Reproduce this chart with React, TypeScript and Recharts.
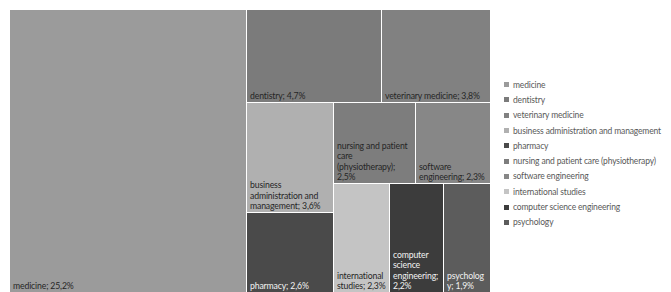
import { Treemap } from 'recharts';

// share of graduates by field of study, in %
const categories = [
  'medicine',
  'dentistry',
  'veterinary medicine',
  'business administration and management',
  'pharmacy',
  'nursing and patient care (physiotherapy)',
  'software engineering',
  'international studies',
  'computer science engineering',
  'psychology',
];
const shares = [25.2, 4.7, 3.8, 3.6, 2.6, 2.5, 2.3, 2.3, 2.2, 1.9];
const tileColors = [
  '#9b9b9b', '#7b7b7b', '#818181', '#b0b0b0', '#4a4a4a',
  '#7d7d7d', '#878787', '#c4c4c4', '#3c3c3c', '#5c5c5c',
];

const FONT_FAMILY = 'Lato';
const LEGEND_SIZE = 8.5;
const LABEL_SIZE = 8.7;
const SPACING = -0.15;

const leaf = (i: number) => ({ name: categories[i], value: shares[i] });

// the last three fields are grouped so the squarify layout splits them side by side
const treeData = [
  leaf(0), leaf(1), leaf(2), leaf(3), leaf(4), leaf(5), leaf(6),
  {
    name: 'group-small',
    children: [{ name: 'group-pair', children: [leaf(7), leaf(8)] }, leaf(9)],
  },
];

let ctx: CanvasRenderingContext2D | null = null;
const measure = (s: string) => {
  if (!ctx) ctx = document.createElement('canvas').getContext('2d');
  if (!ctx) return s.length * 4;
  ctx.font = `${LABEL_SIZE}px ${FONT_FAMILY}`;
  return ctx.measureText(s).width + SPACING * s.length;
};

const wrap = (text: string, max: number) => {
  const lines: string[] = [];
  let cur = '';
  for (const word of text.split(' ')) {
    const test = cur ? cur + ' ' + word : word;
    if (measure(test) <= max) {
      cur = test;
      continue;
    }
    if (cur) lines.push(cur);
    cur = word;
    while (cur.length > 1 && measure(cur) > max) {
      let k = cur.length - 1;
      while (k > 1 && measure(cur.slice(0, k)) > max) k--;
      lines.push(cur.slice(0, k));
      cur = cur.slice(k);
    }
  }
  if (cur) lines.push(cur);
  return lines;
};

const isDark = (hex: string) => parseInt(hex.slice(1, 3), 16) < 0x70;

const renderTile = (props: any) => {
  const { x, y, width, height, name, children } = props;
  if (children && children.length) return <g />;
  const i = categories.indexOf(name);
  if (i < 0) return <g />;
  const fill = tileColors[i];
  const label = `${name}; ${String(shares[i]).replace('.', ',')}%`;
  const lines = wrap(label, width - 7);
  return (
    <g>
      <rect x={x} y={y} width={width - 1} height={height - 1} fill={fill} />
      <text
        fontSize={LABEL_SIZE}
        fontFamily={FONT_FAMILY}
        letterSpacing={SPACING}
        fill={isDark(fill) ? '#f2f2f2' : '#262626'}
      >
        {lines.map((l, k) => (
          <tspan key={k} x={x + 3} y={y + height - 4 - (lines.length - 1 - k) * 10.5}>
            {l}
          </tspan>
        ))}
      </text>
    </g>
  );
};

export default function App() {
  return (
    <div
      style={{
        position: 'fixed',
        left: 0,
        top: 0,
        width: 671,
        height: 292,
        overflow: 'hidden',
        background: '#fff',
      }}
    >
      <div style={{ position: 'absolute', left: 10, top: 10 }}>
        <Treemap
          width={481}
          height={283}
          data={treeData}
          dataKey="value"
          nameKey="name"
          aspectRatio={1}
          isAnimationActive={false}
          content={renderTile}
        />
      </div>
      <div
        style={{
          position: 'absolute',
          left: 504,
          top: 77,
          fontFamily: FONT_FAMILY,
          fontSize: LEGEND_SIZE,
          letterSpacing: SPACING,
          color: '#595959',
        }}
      >
        {categories.map((c, i) => (
          <div key={c} style={{ display: 'flex', alignItems: 'center', height: 15.3 }}>
            <span style={{ width: 5, height: 5, background: tileColors[i], marginRight: 4 }} />
            <span style={{ whiteSpace: 'nowrap' }}>{c}</span>
          </div>
        ))}
      </div>
    </div>
  );
}
